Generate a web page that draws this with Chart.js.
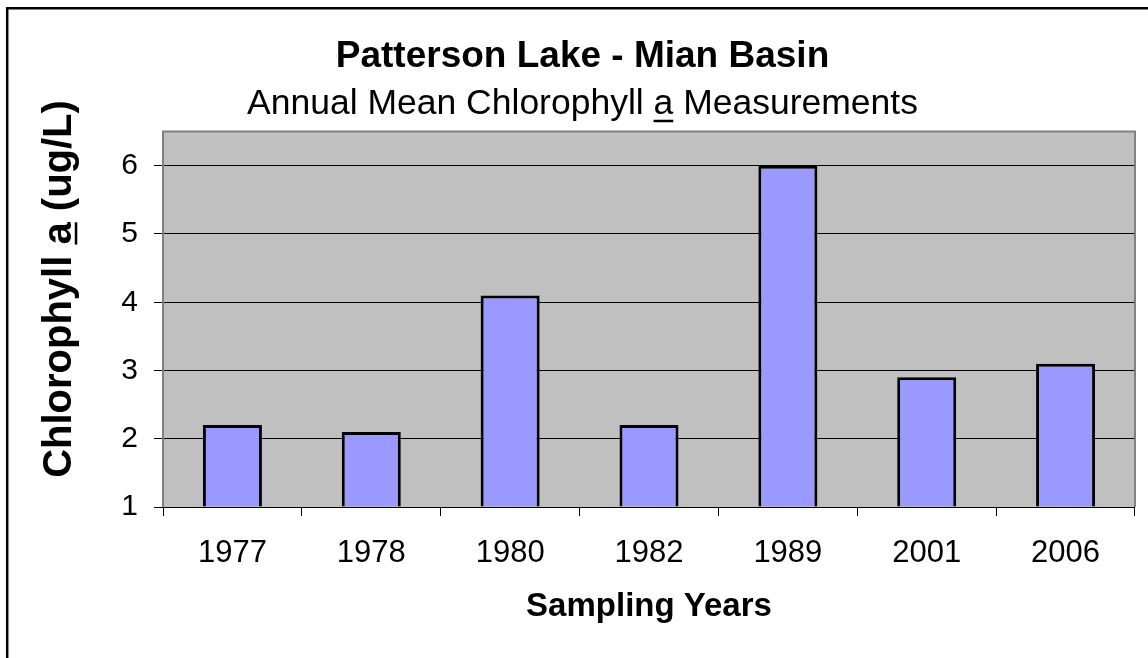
<!DOCTYPE html>
<html>
<head>
<meta charset="utf-8">
<title>Patterson Lake - Mian Basin</title>
<script src="https://cdn.jsdelivr.net/npm/chart.js@4"></script>
<style>
  html, body { margin: 0; padding: 0; background: #fff; overflow: hidden; }
</style>
</head>
<body>
<canvas id="chl-chart" width="1148" height="658"></canvas>
<script>
// data
const years = ["1977", "1978", "1980", "1982", "1989", "2001", "2006"];
const chlorophyll = [2.2, 2.1, 4.1, 2.2, 6.0, 2.9, 3.1];
const yTicks = [1, 2, 3, 4, 5, 6];

const titleText = "Patterson Lake - Mian Basin";
const subtitleText = "Annual Mean Chlorophyll a Measurements";
const yTitleText = "Chlorophyll a (ug/L)";
const xTitleText = "Sampling Years";

const FONT = "'Liberation Sans', Arial, sans-serif";
const SUB_SIZE = 35.5;
const YTITLE_SIZE = 40;

// draws the grey plot background, frame, outer border, y title and the underlined "a"s
const excelLook = {
  id: "excelLook",
  beforeDraw(chart) {
    const { ctx, chartArea: a } = chart;
    ctx.save();
    ctx.fillStyle = "#fff";
    ctx.fillRect(0, 0, chart.width, chart.height);
    ctx.fillStyle = "#c0c0c0";
    ctx.fillRect(a.left, a.top, a.right - a.left, a.bottom - a.top);
    // outer chart border, only left and top are in the picture
    ctx.strokeStyle = "#000";
    ctx.lineWidth = 2.5;
    ctx.beginPath();
    ctx.moveTo(7.2, chart.height);
    ctx.lineTo(7.2, 8.3);
    ctx.lineTo(chart.width, 8.3);
    ctx.stroke();
    ctx.restore();
  },
  beforeDatasetsDraw(chart) {
    const { ctx, chartArea: a } = chart;
    ctx.save();
    ctx.strokeStyle = "#808080";
    ctx.lineWidth = 2;
    ctx.beginPath();
    ctx.moveTo(a.left, a.bottom);
    ctx.lineTo(a.left, a.top);
    ctx.lineTo(a.right, a.top);
    ctx.lineTo(a.right, a.bottom);
    ctx.stroke();
    ctx.restore();
  },
  afterDraw(chart) {
    const { ctx } = chart;
    ctx.save();
    ctx.fillStyle = "#000";
    ctx.strokeStyle = "#000";
    ctx.lineWidth = 2.5;

    // underline the "a" in the subtitle
    const sub = chart.boxes.find((b) => b.options && b.options.text === subtitleText);
    if (sub) {
      ctx.font = "normal " + SUB_SIZE + "px " + FONT;
      ctx.textBaseline = "middle";
      const cx = (sub.left + sub.right) / 2;
      const cy = sub.top + sub.options.padding.top + (SUB_SIZE * 1.2) / 2;
      const full = ctx.measureText(subtitleText).width;
      const pre = ctx.measureText("Annual Mean Chlorophyll ").width;
      const aw = ctx.measureText("a").width;
      const desc = ctx.measureText("M").actualBoundingBoxDescent;
      const x0 = cx - full / 2 + pre;
      const uy = cy + desc + 7;
      ctx.beginPath();
      ctx.moveTo(x0, uy);
      ctx.lineTo(x0 + aw, uy);
      ctx.stroke();
    }

    // y axis title, rotated, with underlined "a"
    ctx.translate(60, 289);
    ctx.rotate(-Math.PI / 2);
    ctx.font = "bold " + YTITLE_SIZE + "px " + FONT;
    ctx.textAlign = "center";
    ctx.textBaseline = "middle";
    ctx.fillText(yTitleText, 0, 0);
    const tw = ctx.measureText(yTitleText).width;
    const pre2 = ctx.measureText("Chlorophyll ").width;
    const aw2 = ctx.measureText("a").width;
    const desc2 = ctx.measureText("C").actualBoundingBoxDescent;
    ctx.beginPath();
    ctx.moveTo(-tw / 2 + pre2, desc2 + 5);
    ctx.lineTo(-tw / 2 + pre2 + aw2, desc2 + 5);
    ctx.stroke();
    ctx.restore();
  },
};

const ctx = document.getElementById("chl-chart").getContext("2d");
new Chart(ctx, {
  type: "bar",
  data: {
    labels: years,
    datasets: [
      {
        label: "Chlorophyll a",
        data: chlorophyll,
        base: 1,
        backgroundColor: "#9999ff",
        borderColor: "#000",
        borderWidth: 3,
        barPercentage: 0.425,
        categoryPercentage: 1,
      },
    ],
  },
  options: {
    responsive: false,
    animation: false,
    layout: { padding: { top: 8, left: 30, right: 13, bottom: 0 } },
    plugins: {
      legend: { display: false },
      tooltip: { enabled: false },
      title: {
        display: true,
        text: titleText,
        color: "#000",
        font: { family: FONT, size: 37, weight: "bold", lineHeight: 1.2 },
        padding: { top: 27, bottom: 0 },
      },
      subtitle: {
        display: true,
        text: subtitleText,
        color: "#000",
        font: { family: FONT, size: SUB_SIZE, weight: "normal", lineHeight: 1.2 },
        padding: { top: 3.5, bottom: 6.1 },
      },
    },
    scales: {
      x: {
        grid: { drawOnChartArea: false, drawTicks: true, tickLength: 9, color: "#000", lineWidth: 1 },
        border: { display: false },
        ticks: { color: "#000", font: { family: FONT, size: 31 }, padding: 19, maxRotation: 0, autoSkip: false },
        title: {
          display: true,
          text: xTitleText,
          color: "#000",
          font: { family: FONT, size: 33, weight: "bold", lineHeight: 1.2 },
          padding: { top: 0, bottom: 31 },
        },
        afterFit: (scale) => {
          scale.height = 151;
        },
      },
      y: {
        min: 1,
        max: 6.5,
        ticks: { stepSize: 1, color: "#000", font: { family: FONT, size: 30 }, padding: 16 },
        afterBuildTicks: (scale) => {
          scale.ticks = scale.ticks.filter((t) => yTicks.includes(t.value));
        },
        grid: { color: "#000", lineWidth: 1, tickLength: 9 },
        border: { display: false },
        afterFit: (scale) => {
          scale.width = 133;
        },
      },
    },
  },
  plugins: [excelLook],
});
</script>
</body>
</html>
